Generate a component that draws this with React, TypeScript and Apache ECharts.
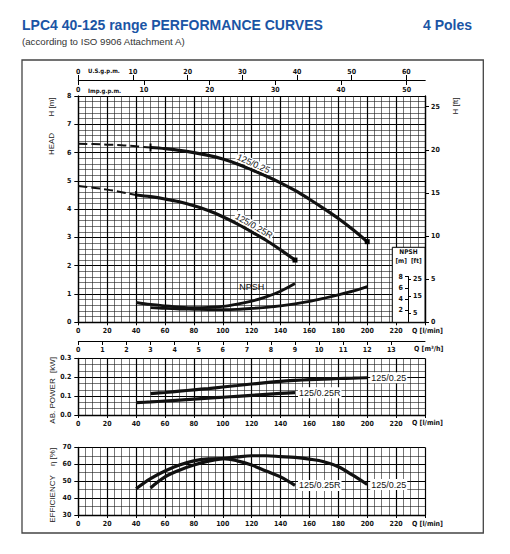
import React, { useEffect, useRef } from "react";
import * as echarts from "echarts";

const FONT = "'Liberation Sans Narrow', 'DejaVu Sans Condensed', 'Liberation Sans', Arial, sans-serif";
const SANS = "'Liberation Sans', Arial, Helvetica, sans-serif";

// ---------- axes / tick labels ----------
const Q_MAX = 240; // l/min
const H_MAX = 8; // m
const L_PER_USGPM = 3.785;
const L_PER_IMPGPM = 4.546;
const L_PER_M3H = 1000 / 60;
const FT_PER_M = 3.2808;
const usGpmTicks = [0, 10, 20, 30, 40, 50, 60];
const impGpmTicks = [0, 10, 20, 30, 40, 50];
const m3hTicks = [0, 1, 2, 3, 4, 5, 6, 7, 8, 9, 10, 11, 12, 13];
const ftTicks = [0, 5, 10, 15, 20, 25];
const npshMTicks = [2, 4, 6, 8];
const npshFtTicks = [5, 15, 25];

// ---------- HEAD  H [m] ----------
const headQ_025_dash = [0, 10, 20, 30, 40, 50];
const head_025_dash = [6.31, 6.3, 6.28, 6.26, 6.22, 6.18];
const headQ_025 = [50, 60, 70, 80, 90, 100, 110, 120, 130, 140, 150, 160, 170, 180, 190, 200];
const head_025 = [6.18, 6.14, 6.08, 6.0, 5.9, 5.77, 5.6, 5.39, 5.17, 4.93, 4.66, 4.35, 4.02, 3.67, 3.28, 2.85];

const headQ_025R_dash = [0, 10, 20, 30, 40];
const head_025R_dash = [4.82, 4.76, 4.69, 4.6, 4.5];
const headQ_025R = [40, 50, 60, 70, 80, 90, 100, 110, 120, 130, 140, 150];
const head_025R = [4.5, 4.44, 4.36, 4.26, 4.12, 3.95, 3.73, 3.48, 3.2, 2.9, 2.56, 2.2];

// ---------- NPSH [m] ----------
const npshQ_025R = [40, 50, 60, 70, 80, 90, 100, 110, 120, 130, 140, 150];
const npsh_025R = [0.7, 0.63, 0.58, 0.54, 0.52, 0.53, 0.56, 0.64, 0.75, 0.9, 1.1, 1.37];
const npshQ_025 = [50, 60, 70, 80, 90, 100, 110, 120, 130, 140, 150, 160, 170, 180, 190, 200];
const npsh_025 = [0.52, 0.49, 0.47, 0.46, 0.45, 0.45, 0.46, 0.49, 0.53, 0.58, 0.65, 0.74, 0.85, 0.97, 1.1, 1.26];

// ---------- AB. POWER [kW] ----------
const powQ_025 = [50, 60, 70, 80, 90, 100, 110, 120, 130, 140, 150, 160, 170, 180, 190, 200];
const pow_025 = [0.113, 0.119, 0.126, 0.133, 0.14, 0.148, 0.156, 0.164, 0.171, 0.178, 0.183, 0.187, 0.19, 0.193, 0.195, 0.197];
const powQ_025R = [40, 50, 60, 70, 80, 90, 100, 110, 120, 130, 140, 150];
const pow_025R = [0.065, 0.069, 0.074, 0.079, 0.084, 0.089, 0.094, 0.099, 0.104, 0.109, 0.114, 0.118];

// ---------- EFFICIENCY [%] ----------
const effQ_025R = [40, 50, 60, 70, 80, 90, 100, 110, 120, 130, 140, 150];
const eff_025R = [45.5, 51.5, 56, 59.5, 62, 63.2, 63.3, 62, 59.5, 56, 52.5, 47.5];
const effQ_025 = [50, 60, 70, 80, 90, 100, 110, 120, 130, 140, 150, 160, 170, 180, 190, 200];
const eff_025 = [46, 52.5, 56.5, 59.5, 61.8, 63.3, 64.3, 65, 65, 64.5, 64, 63, 61.5, 58.5, 53.5, 48];

// ---------- helpers ----------
type Marks = { startTick?: boolean; endRect?: boolean; labelAt?: number; label?: any };
function items(xs: number[], ys: number[], m: Marks = {}) {
  return xs.map((x, i) => {
    const it: any = { value: [x, ys[i]] };
    if (m.startTick && i === 0) {
      it.symbol = "rect";
      it.symbolSize = [2, 8];
    }
    if (m.endRect && i === xs.length - 1) {
      it.symbol = "rect";
      it.symbolSize = 5;
    }
    if (m.labelAt === x) it.label = m.label;
    return it;
  });
}

const majorLine = { show: true, lineStyle: { color: "#000", width: 1.2 } };
const minorLine = { show: true, lineStyle: { color: "#1a1a1a", width: 0.6 } };
const axisLine = { show: true, onZero: false, lineStyle: { color: "#000", width: 1.3 } };
const tickLabel = { fontFamily: FONT, fontWeight: "bold" as const, fontSize: 7, color: "#111" };
const tick = (length: number, inside = false, customValues?: number[]) => ({
  show: true,
  inside,
  length,
  lineStyle: { color: "#000", width: 1 },
  ...(customValues ? { customValues } : {}),
});

function flowAxis(gridIndex: number) {
  return {
    type: "value",
    gridIndex,
    position: "bottom",
    min: 0,
    max: Q_MAX,
    interval: 20,
    axisLine,
    axisTick: tick(3),
    axisLabel: { ...tickLabel, margin: 5, formatter: (v: number) => (v >= Q_MAX ? "" : String(v)) },
    splitLine: majorLine,
    minorTick: { show: false, splitNumber: 4 },
    minorSplitLine: minorLine,
  };
}

const curveLabel = (text: string, rotate: number, distance: number) => ({
  show: true,
  formatter: text,
  position: "top",
  distance,
  rotate,
  fontFamily: SANS,
  fontSize: 9,
  color: "#111",
  backgroundColor: "#fff",
  padding: [0, 1],
});

const endLabel = (text: string) => ({
  show: true,
  formatter: text,
  distance: 3,
  fontFamily: SANS,
  fontSize: 9,
  color: "#111",
  backgroundColor: "#fff",
  padding: [1, 1],
});

const baseLine = {
  type: "line",
  smooth: 0.35,
  symbol: "circle",
  symbolSize: 0,
  showSymbol: true,
  silent: true,
  z: 3,
  itemStyle: { color: "#000" },
  lineStyle: { color: "#111", width: 3.2 },
};

function buildOption(): any {
  const gridL = 78.3;
  const gridW = 346.7;
  return {
    animation: false,
    backgroundColor: "#fff",
    textStyle: { fontFamily: SANS },
    grid: [
      { left: gridL, top: 96, width: gridW, height: 226.3 },
      { left: 408, top: 276.7, width: 1, height: 44.8 },
      { left: gridL, top: 358.3, width: gridW, height: 56.7 },
      { left: gridL, top: 447.3, width: gridW, height: 67.7 },
    ],
    xAxis: [
      flowAxis(0),
      {
        type: "value",
        gridIndex: 0,
        position: "top",
        offset: 16,
        min: 0,
        max: Q_MAX / L_PER_USGPM,
        interval: 10,
        axisLine: { ...axisLine, lineStyle: { color: "#000", width: 1 } },
        axisTick: tick(5, false, usGpmTicks),
        axisLabel: {
          ...tickLabel,
          margin: 5,
          customValues: usGpmTicks,
          formatter: (v: number) => (usGpmTicks.includes(v) ? String(v) : ""),
        },
        splitLine: { show: false },
      },
      {
        type: "value",
        gridIndex: 0,
        position: "top",
        offset: 16,
        min: 0,
        max: Q_MAX / L_PER_IMPGPM,
        interval: 10,
        axisLine: { ...axisLine, lineStyle: { color: "#000", width: 1 } },
        axisTick: tick(5, true, impGpmTicks),
        axisLabel: {
          ...tickLabel,
          inside: true,
          margin: 6,
          customValues: impGpmTicks,
          formatter: (v: number) => (impGpmTicks.includes(v) ? String(v) : ""),
        },
        splitLine: { show: false },
      },
      {
        type: "value",
        gridIndex: 0,
        position: "bottom",
        offset: 18.7,
        min: 0,
        max: Q_MAX / L_PER_M3H,
        interval: 1,
        axisLine: { ...axisLine, lineStyle: { color: "#000", width: 1 } },
        axisTick: tick(4, false, m3hTicks),
        axisLabel: {
          ...tickLabel,
          margin: 5,
          customValues: m3hTicks,
          formatter: (v: number) => (m3hTicks.includes(v) ? String(v) : ""),
        },
        splitLine: { show: false },
      },
      { type: "value", gridIndex: 1, show: false, min: 0, max: 1 },
      flowAxis(2),
      flowAxis(3),
    ],
    yAxis: [
      {
        type: "value",
        gridIndex: 0,
        position: "left",
        min: 0,
        max: H_MAX,
        interval: 1,
        axisLine,
        axisTick: tick(4),
        axisLabel: { ...tickLabel, margin: 7 },
        splitLine: majorLine,
        minorTick: { show: false, splitNumber: 5 },
        minorSplitLine: minorLine,
      },
      {
        type: "value",
        gridIndex: 0,
        position: "right",
        min: 0,
        max: H_MAX * FT_PER_M,
        interval: 5,
        axisLine,
        axisTick: tick(4, false, ftTicks),
        axisLabel: {
          ...tickLabel,
          margin: 6,
          customValues: ftTicks,
          formatter: (v: number) => (ftTicks.includes(v) ? String(v) : ""),
        },
        splitLine: { show: false },
      },
      {
        type: "value",
        gridIndex: 1,
        position: "left",
        min: 0,
        max: 8,
        interval: 2,
        z: 10,
        axisLine: { show: true, onZero: false, lineStyle: { color: "#000", width: 1 } },
        axisTick: tick(3, false, npshMTicks),
        axisLabel: {
          ...tickLabel,
          margin: 5,
          customValues: npshMTicks,
          formatter: (v: number) => (npshMTicks.includes(v) ? String(v) : ""),
        },
        splitLine: { show: false },
      },
      {
        type: "value",
        gridIndex: 1,
        position: "right",
        offset: -1,
        min: 0,
        max: 8 * FT_PER_M,
        interval: 5,
        z: 10,
        axisLine: { show: true, onZero: false, lineStyle: { color: "#000", width: 1 } },
        axisTick: tick(3, false, npshFtTicks),
        axisLabel: {
          ...tickLabel,
          margin: 5,
          customValues: npshFtTicks,
          formatter: (v: number) => (npshFtTicks.includes(v) ? String(v) : ""),
        },
        splitLine: { show: false },
      },
      {
        type: "value",
        gridIndex: 2,
        position: "left",
        min: 0,
        max: 0.3,
        interval: 0.1,
        axisLine,
        axisTick: tick(4),
        axisLabel: { ...tickLabel, margin: 7, formatter: (v: number) => v.toFixed(1) },
        splitLine: majorLine,
        minorTick: { show: false, splitNumber: 3 },
        minorSplitLine: minorLine,
      },
      {
        type: "value",
        gridIndex: 3,
        position: "left",
        min: 30,
        max: 70,
        interval: 10,
        axisLine,
        axisTick: tick(4),
        axisLabel: { ...tickLabel, margin: 7 },
        splitLine: majorLine,
        minorTick: { show: false, splitNumber: 2 },
        minorSplitLine: minorLine,
      },
    ],
    series: [
      // HEAD
      {
        ...baseLine,
        name: "H 125/0.25 ext",
        xAxisIndex: 0,
        yAxisIndex: 0,
        lineStyle: { color: "#111", width: 2, type: [9, 4] },
        data: items(headQ_025_dash, head_025_dash),
      },
      {
        ...baseLine,
        name: "H 125/0.25",
        xAxisIndex: 0,
        yAxisIndex: 0,
        data: items(headQ_025, head_025, {
          startTick: true,
          endRect: true,
          labelAt: 120,
          label: curveLabel("125/0.25", -24, 2),
        }),
      },
      {
        ...baseLine,
        name: "H 125/0.25R ext",
        xAxisIndex: 0,
        yAxisIndex: 0,
        lineStyle: { color: "#111", width: 2, type: [9, 4] },
        data: items(headQ_025R_dash, head_025R_dash),
      },
      {
        ...baseLine,
        name: "H 125/0.25R",
        xAxisIndex: 0,
        yAxisIndex: 0,
        data: items(headQ_025R, head_025R, {
          startTick: true,
          endRect: true,
          labelAt: 120,
          label: curveLabel("125/0.25R", -30, 2),
        }),
      },
      // NPSH
      {
        ...baseLine,
        name: "NPSH 125/0.25R",
        xAxisIndex: 0,
        yAxisIndex: 0,
        lineStyle: { color: "#111", width: 2.8 },
        data: items(npshQ_025R, npsh_025R, {
          labelAt: 120,
          label: { ...curveLabel("NPSH", 0, 10), backgroundColor: "transparent" },
        }),
      },
      {
        ...baseLine,
        name: "NPSH 125/0.25",
        xAxisIndex: 0,
        yAxisIndex: 0,
        lineStyle: { color: "#111", width: 2.8 },
        data: items(npshQ_025, npsh_025),
      },
      // POWER
      {
        ...baseLine,
        name: "P 125/0.25",
        xAxisIndex: 5,
        yAxisIndex: 4,
        endLabel: endLabel("125/0.25"),
        data: items(powQ_025, pow_025),
      },
      {
        ...baseLine,
        name: "P 125/0.25R",
        xAxisIndex: 5,
        yAxisIndex: 4,
        endLabel: endLabel("125/0.25R"),
        data: items(powQ_025R, pow_025R),
      },
      // EFFICIENCY
      {
        ...baseLine,
        name: "E 125/0.25",
        xAxisIndex: 6,
        yAxisIndex: 5,
        endLabel: endLabel("125/0.25"),
        data: items(effQ_025, eff_025),
      },
      {
        ...baseLine,
        name: "E 125/0.25R",
        xAxisIndex: 6,
        yAxisIndex: 5,
        endLabel: endLabel("125/0.25R"),
        data: items(effQ_025R, eff_025R),
      },
    ],
    graphic: [
      // title
      {
        type: "text",
        x: 22,
        y: 25,
        z: 20,
        style: {
          text: "LPC4 40-125 range PERFORMANCE CURVES",
          font: `bold 14px ${SANS}`,
          fill: "#1b55a5",
          verticalAlign: "middle",
        },
      },
      {
        type: "text",
        x: 472,
        y: 25,
        z: 20,
        style: { text: "4 Poles", font: `bold 14px ${SANS}`, fill: "#1b55a5", align: "right", verticalAlign: "middle" },
      },
      {
        type: "text",
        x: 22,
        y: 41,
        z: 20,
        style: {
          text: "(according to ISO 9906 Attachment A)",
          font: `9.7px ${SANS}`,
          fill: "#333",
          verticalAlign: "middle",
        },
      },
      // frame
      {
        type: "rect",
        z: 1,
        shape: { x: 22, y: 60, width: 461.3, height: 473 },
        style: { fill: "none", stroke: "#444", lineWidth: 1.3 },
      },
      // NPSH inset box
      {
        type: "rect",
        z: 5,
        shape: { x: 392.3, y: 247.3, width: 32.7, height: 75 },
        style: { fill: "#fff", stroke: "#000", lineWidth: 1 },
      },
      {
        type: "text",
        x: 408.5,
        y: 251.5,
        z: 20,
        style: { text: "NPSH", font: `bold 6.5px ${FONT}`, fill: "#111", align: "center", verticalAlign: "middle" },
      },
      {
        type: "text",
        x: 408.5,
        y: 261,
        z: 20,
        style: { text: "[m]  [ft]", font: `bold 6.5px ${FONT}`, fill: "#111", align: "center", verticalAlign: "middle" },
      },
      // top axes names
      {
        type: "text",
        x: 88,
        y: 70,
        z: 20,
        style: { text: "U.S.g.p.m.", font: `bold 6px ${FONT}`, fill: "#111", verticalAlign: "middle" },
      },
      {
        type: "text",
        x: 88,
        y: 90,
        z: 20,
        style: { text: "Imp.g.p.m.", font: `bold 6px ${FONT}`, fill: "#111", verticalAlign: "middle" },
      },
      // Q labels
      ...[331, 423, 524].map((y) => ({
        type: "text",
        x: 412,
        y,
        z: 20,
        style: { text: "Q [l/min]", font: `bold 7px ${FONT}`, fill: "#111", verticalAlign: "middle" },
      })),
      {
        type: "text",
        x: 414,
        y: 349,
        z: 20,
        style: { text: "Q [m³/h]", font: `bold 7px ${FONT}`, fill: "#111", verticalAlign: "middle" },
      },
      // vertical axis titles
      ...[
        { t: "H [m]", x: 51, y: 107 },
        { t: "HEAD", x: 51, y: 144 },
        { t: "H [ft]", x: 455, y: 106 },
        { t: "[kW]", x: 52, y: 365 },
        { t: "AB. POWER", x: 52, y: 401 },
        { t: "η [%]", x: 52, y: 457 },
        { t: "EFFICIENCY", x: 52, y: 499 },
      ].map((d) => ({
        type: "text",
        x: d.x,
        y: d.y,
        rotation: Math.PI / 2,
        z: 20,
        style: { text: d.t, font: `8px ${SANS}`, fill: "#222", align: "center", verticalAlign: "middle" },
      })),
    ],
  };
}

export default function App() {
  const ref = useRef<HTMLDivElement>(null);
  useEffect(() => {
    if (!ref.current) return;
    const chart = echarts.init(ref.current, undefined, { renderer: "svg" });
    chart.setOption(buildOption());
    return () => chart.dispose();
  }, []);
  return (
    <div
      ref={ref}
      style={{ position: "fixed", left: 0, top: 0, width: 510, height: 554, background: "#fff" }}
    />
  );
}
